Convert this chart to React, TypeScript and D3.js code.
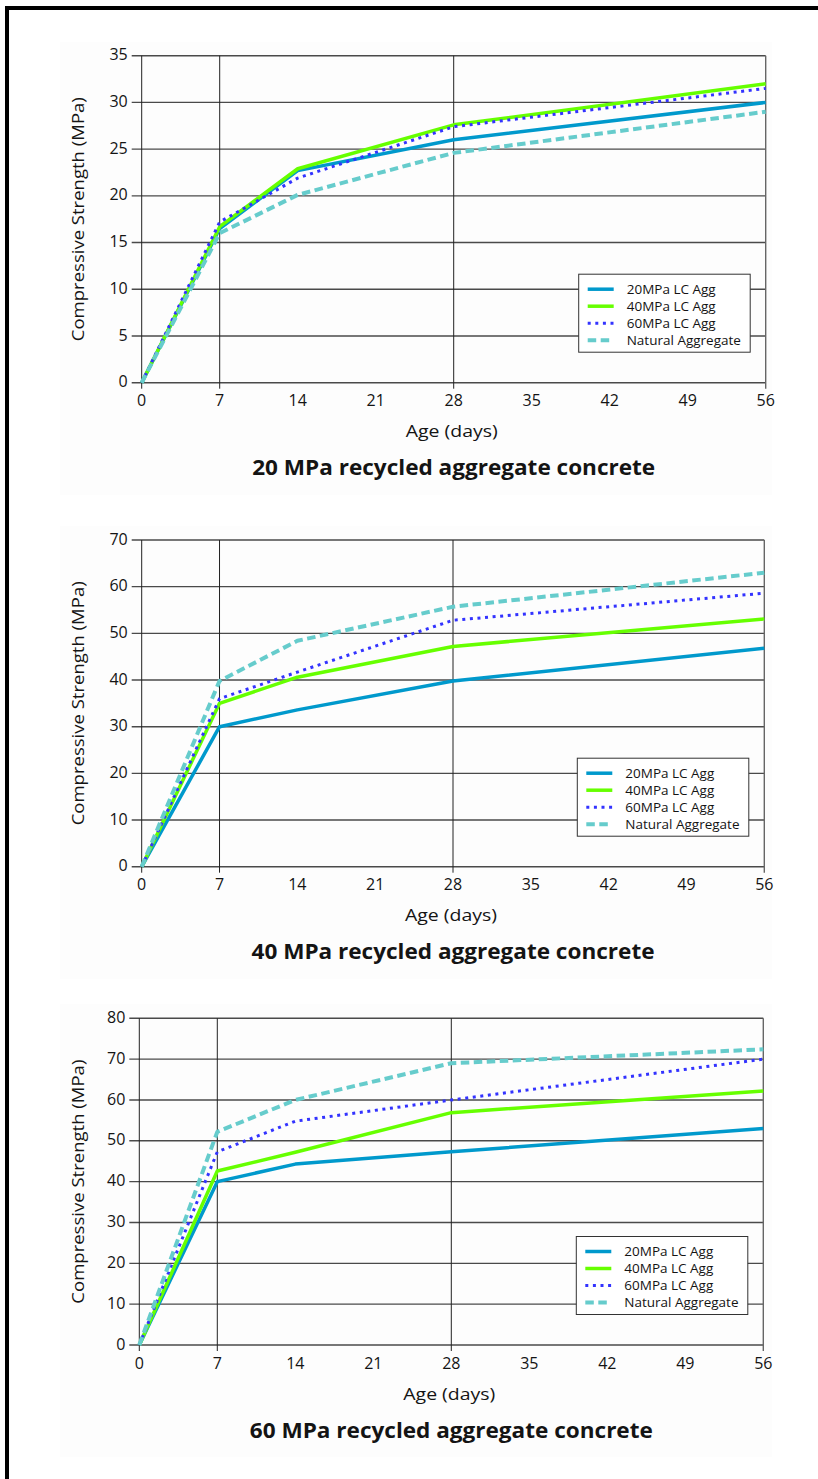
import React from "react";
import * as d3 from "d3";

// x positions of the measurements (days)
const days = [0, 7, 14, 28, 56];
const dayTicks = [0, 7, 14, 21, 28, 35, 42, 49, 56];
const dayGrid = [0, 7, 28, 56];

const seriesNames = ["20MPa LC Agg", "40MPa LC Agg", "60MPa LC Agg", "Natural Aggregate"];

// 20 MPa recycled aggregate concrete
const rac20Lc20 = [0, 16.5, 22.7, 26.0, 30.0];
const rac20Lc40 = [0, 16.7, 22.9, 27.6, 32.0];
const rac20Lc60 = [0, 17.2, 21.9, 27.4, 31.5];
const rac20Nat = [0, 16.0, 20.1, 24.6, 29.0];
const yTicks20 = [0, 5, 10, 15, 20, 25, 30, 35];

// 40 MPa recycled aggregate concrete
const rac40Lc20 = [0, 30.0, 33.6, 39.8, 46.8];
const rac40Lc40 = [0, 35.0, 40.6, 47.2, 53.1];
const rac40Lc60 = [0, 36.0, 41.7, 52.8, 58.6];
const rac40Nat = [0, 39.8, 48.4, 55.7, 63.0];
const yTicks40 = [0, 10, 20, 30, 40, 50, 60, 70];

// 60 MPa recycled aggregate concrete
const rac60Lc20 = [0, 40.0, 44.3, 47.3, 53.0];
const rac60Lc40 = [0, 42.6, 47.2, 56.9, 62.2];
const rac60Lc60 = [0, 47.3, 54.8, 60.0, 70.0];
const rac60Nat = [0, 52.2, 60.0, 69.0, 72.4];
const yTicks60 = [0, 10, 20, 30, 40, 50, 60, 70, 80];

const titles = [
  "20 MPa recycled aggregate concrete",
  "40 MPa recycled aggregate concrete",
  "60 MPa recycled aggregate concrete",
];

const FONT = "'Open Sans', 'Noto Sans', sans-serif";

const lineStyles = [
  { color: "#0099cc", width: 3.5, dash: undefined },
  { color: "#66ff00", width: 3.5, dash: undefined },
  { color: "#3333ff", width: 3, dash: "3 4.6" },
  { color: "#66cccc", width: 4, dash: "8.5 4.5" },
];

type ChartProps = {
  left: number;
  right: number;
  top: number;
  bottom: number;
  yTicks: number[];
  series: number[][];
  title: string;
};

const Chart = ({ left, right, top, bottom, yTicks, series, title }: ChartProps) => {
  const x = d3.scaleLinear().domain([0, 56]).range([left, right]);
  const y = d3.scaleLinear().domain([0, d3.max(yTicks)!]).range([bottom, top]);
  const line = d3
    .line<number>()
    .x((_, i) => x(days[i]))
    .y((d) => y(d));

  const legX = right - 187;
  const legY = bottom - 108.5;
  const midX = (left + right) / 2;

  return (
    <g fontFamily={FONT} fill="#141414">
      <rect x={60} y={top - 14} width={712} height={bottom - top + 126} fill="#fdfdfd" />
      {/* horizontal grid + left ticks */}
      {yTicks.map((t) => (
        <line key={"h" + t} x1={left - 10} x2={right} y1={y(t)} y2={y(t)} stroke="#4a4a4a" strokeWidth={1.4} />
      ))}
      {/* vertical grid */}
      {dayGrid.map((d) => (
        <line
          key={"v" + d}
          x1={x(d)}
          x2={x(d)}
          y1={top}
          y2={bottom + 6}
          stroke={d === 56 ? "#666" : "#222"}
          strokeWidth={d === 56 ? 1.4 : 1}
        />
      ))}
      {yTicks.map((t) => (
        <text key={"yl" + t} x={left - 14} y={y(t) - 1} dy="0.35em" textAnchor="end" fontSize={16}>
          {t}
        </text>
      ))}
      {dayTicks.map((d) => (
        <text key={"xl" + d} x={x(d)} y={bottom + 18} dy="0.35em" textAnchor="middle" fontSize={16}>
          {d}
        </text>
      ))}
      <text
        transform={`translate(78,${(top + bottom) / 2}) rotate(-90)`}
        textAnchor="middle"
        dy="0.35em"
        fontSize={16.5}
        textLength={244}
        lengthAdjust="spacingAndGlyphs"
      >
        Compressive Strength (MPa)
      </text>
      <text
        x={midX - 2}
        y={bottom + 49}
        dy="0.35em"
        textAnchor="middle"
        fontSize={16.5}
        textLength={92}
        lengthAdjust="spacingAndGlyphs"
      >
        Age (days)
      </text>
      <text
        x={midX}
        y={bottom + 85}
        dy="0.35em"
        textAnchor="middle"
        fontSize={21.5}
        fontWeight="bold"
        textLength={403}
        lengthAdjust="spacingAndGlyphs"
      >
        {title}
      </text>

      {series.map((vals, i) => (
        <path
          key={"s" + i}
          d={line(vals) ?? ""}
          fill="none"
          stroke={lineStyles[i].color}
          strokeWidth={lineStyles[i].width}
          strokeDasharray={lineStyles[i].dash}
          strokeLinejoin="round"
        />
      ))}

      {/* legend */}
      <rect x={legX} y={legY} width={171.5} height={78} fill="#fff" stroke="#333" strokeWidth={1} />
      {seriesNames.map((name, i) => {
        const ry = legY + 15 + i * 17;
        return (
          <g key={"lg" + i}>
            <line
              x1={legX + 9}
              x2={legX + 35}
              y1={ry}
              y2={ry}
              stroke={lineStyles[i].color}
              strokeWidth={lineStyles[i].width}
              strokeDasharray={lineStyles[i].dash}
            />
            <text x={legX + 48} y={ry} dy="0.35em" fontSize={13.5}>
              {name}
            </text>
          </g>
        );
      })}
    </g>
  );
};

export default function App() {
  return (
    <svg
      width={818}
      height={1479}
      style={{ position: "absolute", left: 0, top: 0, background: "#fff" }}
    >
      <Chart
        left={141.7}
        right={765.7}
        top={55.7}
        bottom={382.7}
        yTicks={yTicks20}
        series={[rac20Lc20, rac20Lc40, rac20Lc60, rac20Nat]}
        title={titles[0]}
      />
      <Chart
        left={141.7}
        right={764.3}
        top={540}
        bottom={866.7}
        yTicks={yTicks40}
        series={[rac40Lc20, rac40Lc40, rac40Lc60, rac40Nat]}
        title={titles[1]}
      />
      <Chart
        left={139.3}
        right={763.3}
        top={1018.3}
        bottom={1345}
        yTicks={yTicks60}
        series={[rac60Lc20, rac60Lc40, rac60Lc60, rac60Nat]}
        title={titles[2]}
      />
      {/* outer frame, top and left edges */}
      <line x1={5} x2={818} y1={8} y2={8} stroke="#000" strokeWidth={4} />
      <line x1={7} x2={7} y1={6} y2={1479} stroke="#000" strokeWidth={4} />
    </svg>
  );
}
